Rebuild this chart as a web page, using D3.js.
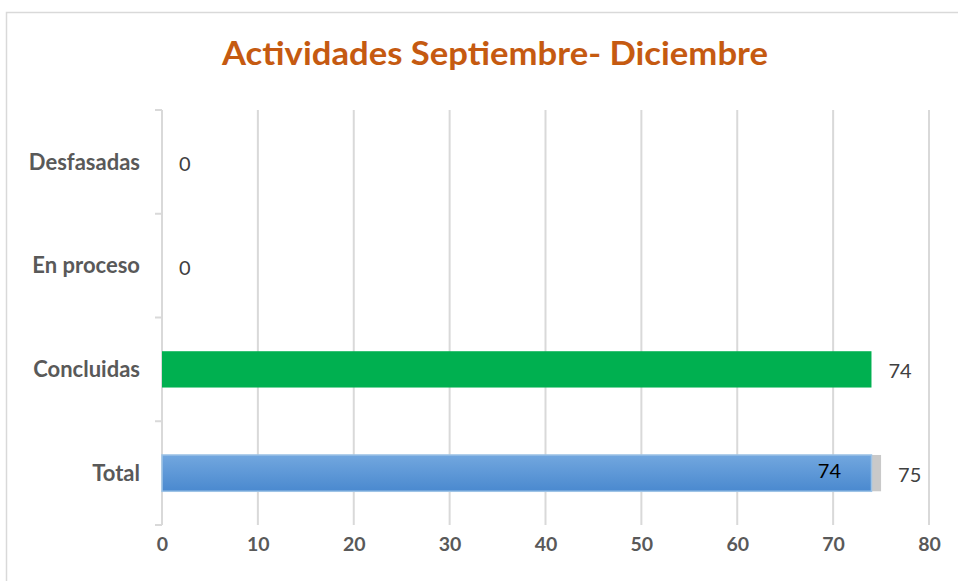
<!DOCTYPE html>
<html>
<head>
<meta charset="utf-8">
<script src="https://cdn.jsdelivr.net/npm/d3@7/dist/d3.min.js"></script>
<style>
  html, body { margin: 0; padding: 0; background: #fff; }
  svg { display: block; }
</style>
</head>
<body>
<svg id="chart" width="958" height="581"></svg>
<script>
// Activity counts for the September–December period
const categories = ["Desfasadas", "En proceso", "Concluidas", "Total"];
const values = [0, 0, 74, 75];
const totalDone = 74;            // completed portion drawn over the Total bar
const xTicks = [0, 10, 20, 30, 40, 50, 60, 70, 80];
const title = "Actividades Septiembre- Diciembre";

const FONT = "Lato, 'Open Sans', sans-serif";
const svg = d3.select("#chart");
const W = 958, H = 581;
const margin = { left: 162, right: 29, top: 110, bottom: 56 };

// chart frame
svg.append("rect")
  .attr("x", 6.5).attr("y", 12.5)
  .attr("width", W + 10).attr("height", H)
  .attr("fill", "#fff").attr("stroke", "#d9d9d9").attr("stroke-width", 1.5);

svg.append("text")
  .attr("x", 495).attr("y", 65)
  .attr("text-anchor", "middle")
  .attr("font-family", FONT)
  .attr("font-weight", "bold")
  .attr("font-size", 33)
  .attr("fill", "#c55a11")
  .attr("textLength", 546)
  .attr("lengthAdjust", "spacingAndGlyphs")
  .text(title);

const x = d3.scaleLinear().domain([0, 80]).range([margin.left, W - margin.right]);
const y = d3.scaleBand().domain(categories).range([margin.top, H - margin.bottom]).paddingInner(0.65).paddingOuter(0.325);
const yOuter = d3.scaleBand().domain(categories).range([margin.top, H - margin.bottom]);

// vertical gridlines
svg.append("g")
  .selectAll("line")
  .data(xTicks.filter(d => d > 0))
  .join("line")
  .attr("x1", d => x(d)).attr("x2", d => x(d))
  .attr("y1", margin.top).attr("y2", H - margin.bottom)
  .attr("stroke", "#d9d9d9").attr("stroke-width", 2);

// x axis labels
const xAxis = d3.axisBottom(x).tickValues(xTicks).tickSize(0).tickPadding(0);
const gx = svg.append("g").attr("transform", `translate(0,${H - margin.bottom})`).call(xAxis);
gx.select(".domain").remove();
gx.selectAll("text")
  .attr("y", 12).attr("dy", "0.71em")
  .attr("font-family", FONT)
  .attr("font-weight", "bold")
  .attr("font-size", 19.5)
  .attr("fill", "#595959");

// y axis with category separators
const gy = svg.append("g").attr("transform", `translate(${margin.left},0)`);
gy.append("line")
  .attr("x1", 0).attr("x2", 0)
  .attr("y1", margin.top).attr("y2", H - margin.bottom)
  .attr("stroke", "#d9d9d9").attr("stroke-width", 2);
const bounds = categories.map(c => yOuter(c)).concat([H - margin.bottom]);
gy.selectAll("line.sep")
  .data(bounds)
  .join("line")
  .attr("class", "sep")
  .attr("x1", -7).attr("x2", 0)
  .attr("y1", d => d).attr("y2", d => d)
  .attr("stroke", "#d9d9d9").attr("stroke-width", 2);
gy.selectAll("text")
  .data(categories)
  .join("text")
  .attr("x", -22)
  .attr("y", d => yOuter(d) + yOuter.bandwidth() / 2)
  .attr("dy", "0.35em")
  .attr("text-anchor", "end")
  .attr("font-family", FONT)
  .attr("font-weight", "bold")
  .attr("font-size", 22)
  .attr("fill", "#595959")
  .text(d => d);

// gradient for the completed part of the Total bar
const defs = svg.append("defs");
const grad = defs.append("linearGradient").attr("id", "blueGrad").attr("x1", 0).attr("x2", 0).attr("y1", 0).attr("y2", 1);
grad.append("stop").attr("offset", "0%").attr("stop-color", "#72a7df");
grad.append("stop").attr("offset", "100%").attr("stop-color", "#4a89cf");

const colorOf = { "Concluidas": "#00b050", "Total": "#c9c9c9" };

// bars
svg.append("g")
  .selectAll("rect")
  .data(categories.map((c, i) => ({ c, v: values[i] })).filter(d => d.v > 0))
  .join("rect")
  .attr("x", x(0))
  .attr("y", d => y(d.c))
  .attr("width", d => x(d.v) - x(0))
  .attr("height", y.bandwidth())
  .attr("fill", d => colorOf[d.c]);

svg.append("rect")
  .attr("x", x(0))
  .attr("y", y("Total"))
  .attr("width", x(totalDone) - x(0))
  .attr("height", y.bandwidth())
  .attr("fill", "url(#blueGrad)")
  .attr("stroke", "#9dc3e6")
  .attr("stroke-width", 1.5);

// value labels
svg.append("g")
  .selectAll("text")
  .data(categories.map((c, i) => ({ c, v: values[i] })))
  .join("text")
  .attr("x", d => x(d.v) + 17)
  .attr("y", d => yOuter(d.c) + yOuter.bandwidth() / 2 + 2)
  .attr("dy", "0.35em")
  .attr("font-family", FONT)
  .attr("font-size", 20)
  .attr("fill", "#404040")
  .text(d => d.v);

svg.append("text")
  .attr("x", x(totalDone) - 42)
  .attr("y", yOuter("Total") + yOuter.bandwidth() / 2 - 2)
  .attr("dy", "0.35em")
  .attr("text-anchor", "middle")
  .attr("font-family", FONT)
  .attr("font-size", 20)
  .attr("fill", "#000")
  .text(totalDone);
</script>
</body>
</html>
